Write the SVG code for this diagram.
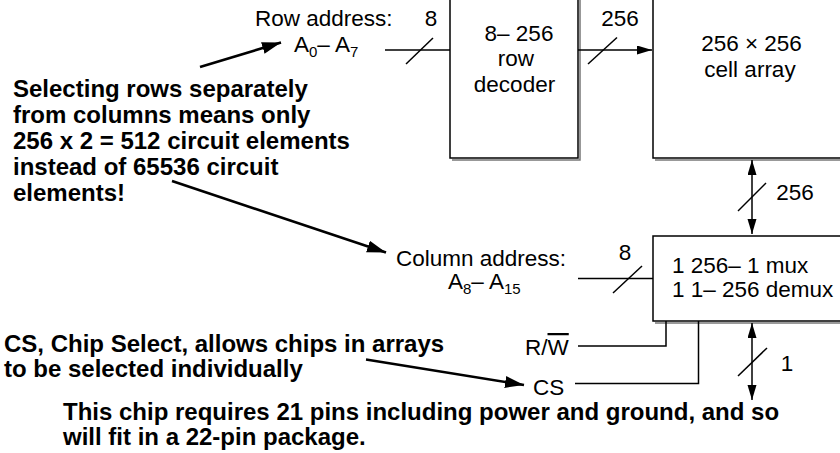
<svg xmlns="http://www.w3.org/2000/svg" width="840" height="453" viewBox="0 0 840 453">
<style>
.r{font-family:"Liberation Sans",Arial,sans-serif;font-size:22.5px;fill:#000}
.b{font-family:"Liberation Sans",Arial,sans-serif;font-size:24px;font-weight:bold;fill:#000}
.sub{font-size:15px}
.box{fill:#fff;stroke:#000;stroke-width:1.5}
.sh{fill:none;stroke:#777;stroke-width:1.5}
.w{stroke:#000;stroke-width:1.5;fill:none}
.ann{stroke:#000;stroke-width:2.6;fill:none}
</style>
<defs>
<marker id="ah" markerUnits="userSpaceOnUse" markerWidth="16" markerHeight="10" refX="15" refY="4.5" orient="auto-start-reverse"><path d="M0,0 L15,4.5 L0,9 z" fill="#000"/></marker>
<marker id="aa" markerUnits="userSpaceOnUse" markerWidth="20" markerHeight="13" refX="19" refY="6" orient="auto"><path d="M0,0 L19,6 L0,12 z" fill="#000"/></marker>
</defs>
<rect width="840" height="453" fill="#fff"/>
<g id="row-decoder">
<polyline class="sh" points="580,-5 580,160 452,160"/>
<rect class="box" x="450" y="-5" width="128" height="163"/>
<text class="r" x="519" y="41" text-anchor="middle">8– 256</text>
<text class="r" x="516" y="66" text-anchor="middle">row</text>
<text class="r" x="514.5" y="92" text-anchor="middle">decoder</text>
</g>
<g id="cell-array">
<line class="sh" x1="655" y1="160" x2="860" y2="160"/>
<rect class="box" x="653" y="-5" width="210" height="163"/>
<text class="r" x="751.5" y="51" text-anchor="middle">256 × 256</text>
<text class="r" x="750" y="77" text-anchor="middle">cell array</text>
</g>
<g id="mux">
<line class="sh" x1="655" y1="323" x2="860" y2="323"/>
<rect class="box" x="653" y="236" width="210" height="85"/>
<text class="r" x="672" y="273">1 256– 1 mux</text>
<text class="r" x="672" y="297">1 1– 256 demux</text>
</g>
<g id="row-address">
<text class="r" x="255" y="26">Row address:</text>
<text class="r" x="294" y="52">A<tspan class="sub" dy="5">0</tspan><tspan dy="-5">– A</tspan><tspan class="sub" dy="5">7</tspan></text>
</g>
<g id="column-address">
<text class="r" x="396" y="266">Column address:</text>
<text class="r" x="448" y="289">A<tspan class="sub" dy="5">8</tspan><tspan dy="-5">– A</tspan><tspan class="sub" dy="5">15</tspan></text>
</g>
<g id="rw">
<text class="r" x="525" y="355">R/<tspan style="text-decoration:overline">W</tspan></text>
</g>
<g id="cs">
<text class="r" x="533" y="395">CS</text>
</g>
<g id="connectors">
<line class="w" x1="385" y1="50" x2="450" y2="50"/>
<line class="w" x1="406" y1="64" x2="433" y2="38"/>
<text class="r" x="431" y="26" text-anchor="middle">8</text>
<line class="w" x1="578" y1="50" x2="652" y2="50" marker-end="url(#ah)"/>
<line class="w" x1="588" y1="64" x2="617" y2="37.5"/>
<text class="r" x="620" y="26" text-anchor="middle">256</text>
<line class="w" x1="752" y1="160" x2="752" y2="234" marker-start="url(#ah)" marker-end="url(#ah)"/>
<line class="w" x1="738" y1="211" x2="766" y2="183"/>
<text class="r" x="795" y="200" text-anchor="middle">256</text>
<line class="w" x1="578" y1="278.5" x2="653" y2="278.5"/>
<line class="w" x1="613" y1="293" x2="642" y2="266"/>
<text class="r" x="625" y="260" text-anchor="middle">8</text>
<polyline class="w" points="578,346 666,346 666,321"/>
<polyline class="w" points="575,383.5 698.5,383.5 698.5,321"/>
<line class="w" x1="752" y1="323" x2="752" y2="400" marker-start="url(#ah)" marker-end="url(#ah)"/>
<line class="w" x1="738" y1="376" x2="767" y2="348"/>
<text class="r" x="787" y="371" text-anchor="middle">1</text>
<line class="ann" x1="200" y1="67" x2="281" y2="42.5" marker-end="url(#aa)"/>
<line class="ann" x1="172" y1="181" x2="386" y2="252.5" marker-end="url(#aa)"/>
<line class="ann" x1="366" y1="359.5" x2="524" y2="385" marker-end="url(#aa)"/>
</g>
<g id="annotations">
<text class="b" x="13" y="97">Selecting rows separately</text>
<text class="b" x="13" y="123">from columns means only</text>
<text class="b" x="13" y="149">256 x 2 = 512 circuit elements</text>
<text class="b" x="13" y="175">instead of 65536 circuit</text>
<text class="b" x="13" y="201">elements!</text>
<text class="b" x="4" y="352">CS, Chip Select, allows chips in arrays</text>
<text class="b" x="4" y="377">to be selected individually</text>
<text class="b" x="63" y="420">This chip requires 21 pins including power and ground, and so</text>
<text class="b" x="63" y="445">will fit in a 22-pin package.</text>
</g>
</svg>
